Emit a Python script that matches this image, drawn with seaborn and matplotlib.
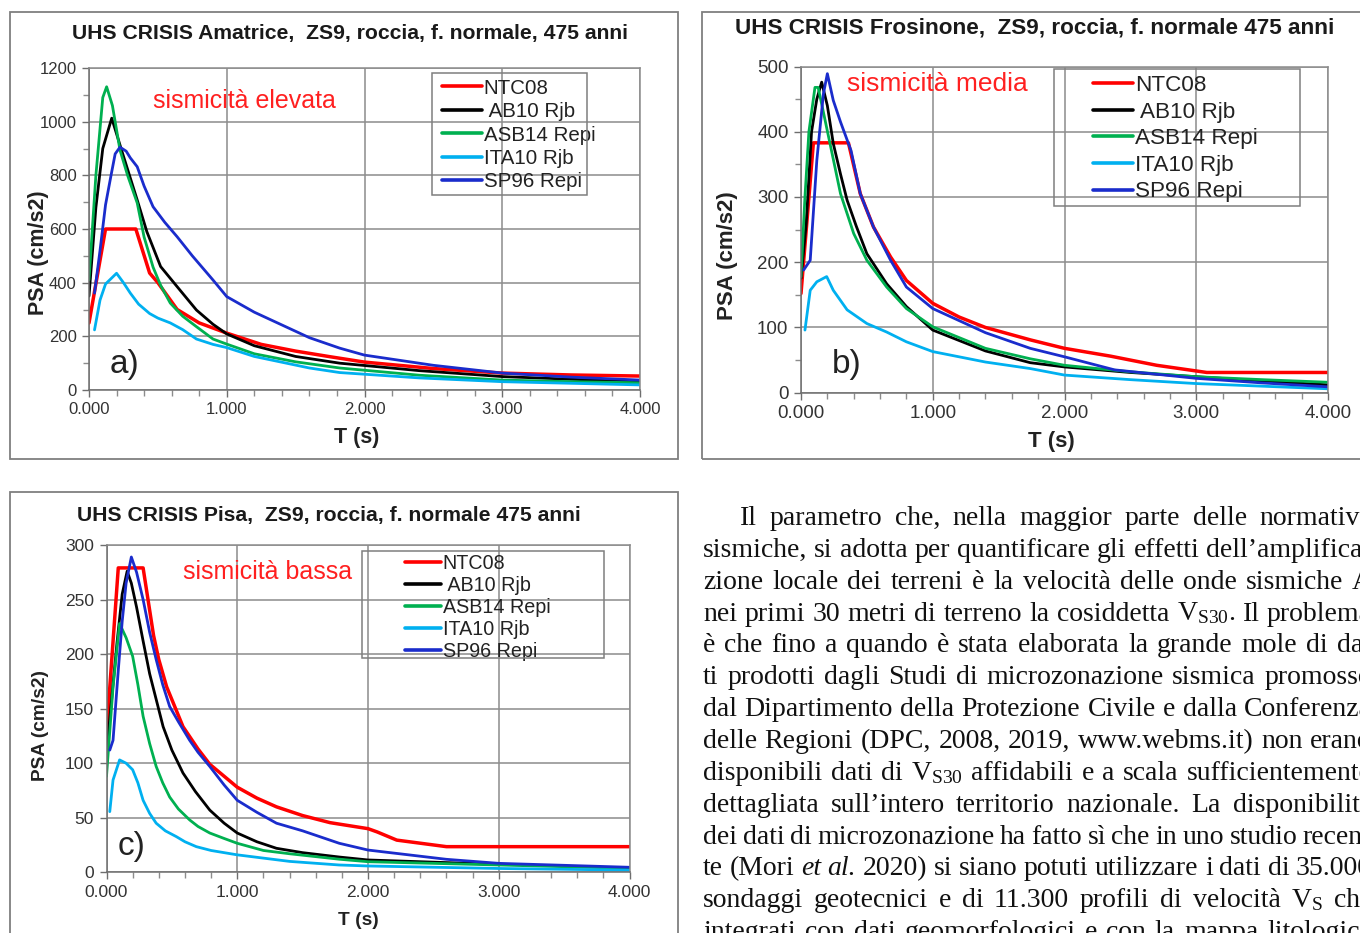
import numpy as np
import pandas as pd
import matplotlib
matplotlib.use("Agg")
import matplotlib.pyplot as plt
from matplotlib.patches import Rectangle
from matplotlib.ticker import MultipleLocator, FormatStrFormatter
import seaborn as sns

W, H = 1360, 933

# ---- data: T (s) and PSA (cm/s2) ----
SERIES = ["NTC08", " AB10 Rjb", "ASB14 Repi", "ITA10 Rjb", "SP96 Repi"]
COLORS = ["#ff0000", "#000000", "#00b050", "#00b0f0", "#1a2ccc"]

# a) Amatrice
a_ntc_t = [0.0, 0.12, 0.34, 0.44, 0.5, 0.64, 0.8, 1.0, 1.25, 1.5, 1.75, 2.0, 2.5, 3.0, 3.5, 4.0]
a_ntc_y = [250, 600, 600, 436, 400, 300, 250, 212, 170, 145, 124, 104, 80, 63, 56, 52]
a_ab_t = [0.0, 0.05, 0.1, 0.165, 0.24, 0.35, 0.42, 0.52, 0.64, 0.78, 0.9, 1.0, 1.2, 1.5, 1.82, 2.4, 3.0, 3.5, 4.0]
a_ab_y = [350, 680, 900, 1013, 888, 708, 590, 460, 385, 298, 245, 209, 165, 125, 100, 72, 50, 40, 31]
a_asb_t = [0.0, 0.05, 0.1, 0.128, 0.17, 0.225, 0.28, 0.35, 0.4, 0.465, 0.52, 0.59, 0.68, 0.78, 0.9, 1.0, 1.2, 1.5, 1.82, 2.4, 3.0, 3.5, 4.0]
a_asb_y = [410, 800, 1090, 1130, 1060, 894, 800, 697, 570, 458, 390, 324, 275, 236, 190, 171, 135, 105, 82, 55, 37, 31, 27]
a_ita_t = [0.04, 0.08, 0.12, 0.2, 0.25, 0.3, 0.36, 0.44, 0.5, 0.59, 0.68, 0.78, 0.9, 1.0, 1.2, 1.6, 1.82, 2.4, 3.0, 3.5, 4.0]
a_ita_y = [224, 335, 395, 435, 400, 361, 320, 285, 268, 250, 225, 190, 170, 158, 125, 82, 65, 45, 31, 25, 19]
a_sp_t = [0.04, 0.08, 0.12, 0.16, 0.19, 0.225, 0.27, 0.3, 0.35, 0.4, 0.465, 0.55, 0.64, 0.75, 0.9, 1.0, 1.2, 1.6, 1.82, 2.0, 2.5, 3.0, 3.5, 4.0]
a_sp_y = [361, 520, 690, 800, 880, 905, 890, 865, 832, 760, 683, 625, 571, 500, 410, 348, 290, 195, 156, 130, 92, 63, 48, 37]

# b) Frosinone
b_ntc_t = [0.0, 0.094, 0.36, 0.45, 0.55, 0.68, 0.8, 1.0, 1.2, 1.4, 1.74, 2.0, 2.35, 2.7, 3.08, 4.0]
b_ntc_y = [152, 383, 383, 305, 254, 208, 172, 137, 116, 100, 81, 68, 56, 42, 31, 31]
b_ab_t = [0.0, 0.04, 0.08, 0.12, 0.157, 0.2, 0.245, 0.3, 0.35, 0.42, 0.5, 0.65, 0.8, 1.0, 1.4, 1.74, 2.0, 2.5, 3.0, 3.5, 4.0]
b_ab_y = [175, 260, 400, 450, 476, 440, 382, 335, 295, 255, 213, 167, 132, 96, 64, 46, 39.5, 31, 24.5, 18, 12]
b_asb_t = [0.0, 0.03, 0.06, 0.106, 0.13, 0.17, 0.22, 0.3, 0.4, 0.5, 0.65, 0.8, 1.0, 1.4, 1.74, 2.0, 2.5, 3.0, 3.5, 4.0]
b_asb_y = [178, 300, 400, 468, 468, 430, 382, 305, 244, 203, 162, 129, 101, 68, 52, 42, 32, 24.5, 20, 16]
b_ita_t = [0.03, 0.07, 0.12, 0.195, 0.245, 0.35, 0.5, 0.65, 0.8, 1.0, 1.4, 1.74, 2.0, 2.5, 3.0, 3.5, 4.0]
b_ita_y = [96, 157, 170, 178, 157, 127, 106, 93, 78, 63, 47, 37, 27, 20, 14, 10, 6]
b_sp_t = [0.02, 0.07, 0.12, 0.17, 0.2, 0.245, 0.3, 0.38, 0.45, 0.55, 0.68, 0.8, 1.0, 1.4, 1.74, 2.0, 2.38, 3.0, 3.5, 4.0]
b_sp_y = [188, 203, 356, 458, 489, 448, 415, 371, 305, 254, 203, 162, 129, 92, 68, 55, 35, 22, 15, 9]

# c) Pisa
c_ntc_t = [0.0, 0.09, 0.28, 0.36, 0.4, 0.46, 0.585, 0.7, 0.79, 0.9, 1.0, 1.15, 1.3, 1.5, 1.71, 2.0, 2.07, 2.22, 2.6, 4.0]
c_ntc_y = [127, 279, 279, 217, 195, 170, 133.5, 113, 99, 88, 78, 68, 60, 52, 45.5, 40, 37, 29.5, 23.5, 23.5]
c_ab_t = [0.0, 0.08, 0.12, 0.158, 0.19, 0.23, 0.28, 0.33, 0.433, 0.5, 0.585, 0.68, 0.79, 0.9, 1.0, 1.15, 1.3, 1.5, 1.78, 2.0, 3.0]
c_ab_y = [109, 210, 255, 276, 265, 243, 212, 182, 133.5, 112, 91, 74, 57, 45, 36, 28, 22, 18, 14, 11.3, 7.3]
c_asb_t = [0.0, 0.05, 0.1, 0.15, 0.2, 0.24, 0.28, 0.33, 0.38, 0.43, 0.483, 0.55, 0.636, 0.7, 0.79, 0.9, 1.0, 1.2, 1.4, 1.78, 2.0, 3.0, 4.0]
c_asb_y = [88, 170, 228, 215, 198, 172, 143, 118, 97, 82, 69, 58, 48, 42, 36, 31, 26.6, 20, 17, 12, 9.7, 6.7, 3.6]
c_ita_t = [0.025, 0.05, 0.1, 0.15, 0.2, 0.24, 0.28, 0.33, 0.38, 0.45, 0.534, 0.6, 0.687, 0.8, 1.0, 1.2, 1.4, 1.78, 2.0, 3.0, 4.0]
c_ita_y = [55.6, 84.6, 103, 100, 94, 82, 66, 54, 45, 38, 32.7, 28, 23.5, 20, 16, 13, 10, 6.7, 5.8, 3.5, 2]
c_sp_t = [0.025, 0.05, 0.09, 0.12, 0.15, 0.19, 0.23, 0.28, 0.33, 0.38, 0.43, 0.483, 0.55, 0.636, 0.7, 0.79, 0.9, 1.0, 1.15, 1.3, 1.5, 1.78, 2.0, 2.6, 3.0, 4.0]
c_sp_y = [112, 121, 185, 230, 265, 289, 275, 250, 220, 195, 172, 152, 138, 121, 110, 97, 80, 66, 55, 45, 38, 26.6, 20.4, 11.9, 8.2, 4.6]

TITLES = ["UHS CRISIS Amatrice,  ZS9, roccia, f. normale, 475 anni",
          "UHS CRISIS Frosinone,  ZS9, roccia, f. normale 475 anni",
          "UHS CRISIS Pisa,  ZS9, roccia, f. normale 475 anni"]
NOTES = ["sismicità elevata", "sismicità media", "sismicità bassa"]
LETTERS = ["a)", "b)", "c)"]
YMAX = [1200, 500, 300]
YSTEP = [200, 100, 50]

BODY = [
    "Il parametro che, nella maggior parte delle normative",
    "sismiche, si adotta per quantificare gli effetti dell’amplifica-",
    "zione locale dei terreni è la velocità delle onde sismiche A",
    "nei primi 30 metri di terreno la cosiddetta V$_{\\mathrm{S30}}$. Il problema",
    "è che fino a quando è stata elaborata la grande mole di da-",
    "ti prodotti dagli Studi di microzonazione sismica promosso",
    "dal Dipartimento della Protezione Civile e dalla Conferenza",
    "delle Regioni (DPC, 2008, 2019, www.webms.it) non erano",
    "disponibili dati di V$_{\\mathrm{S30}}$ affidabili e a scala sufficientemente",
    "dettagliata sull’intero territorio nazionale. La disponibilità",
    "dei dati di microzonazione ha fatto sì che in uno studio recen-",
    "te (Mori _et _al. 2020) si siano potuti utilizzare i dati di 35.000",
    "sondaggi geotecnici e di 11.300 profili di velocità V$_{\\mathrm{S}}$ che",
    "integrati con dati geomorfologici e con la mappa litologica",
]

panels = [
    [(a_ntc_t, a_ntc_y), (a_ab_t, a_ab_y), (a_asb_t, a_asb_y), (a_ita_t, a_ita_y), (a_sp_t, a_sp_y)],
    [(b_ntc_t, b_ntc_y), (b_ab_t, b_ab_y), (b_asb_t, b_asb_y), (b_ita_t, b_ita_y), (b_sp_t, b_sp_y)],
    [(c_ntc_t, c_ntc_y), (c_ab_t, c_ab_y), (c_asb_t, c_asb_y), (c_ita_t, c_ita_y), (c_sp_t, c_sp_y)],
]

sns.set_theme(style="white")
plt.rcParams["font.family"] = ["Liberation Sans", "DejaVu Sans"]
plt.rcParams["mathtext.fontset"] = "custom"
plt.rcParams["mathtext.rm"] = "Liberation Serif"
plt.rcParams["mathtext.it"] = "Liberation Serif:italic"

fig = plt.figure(figsize=(W / 100, H / 100), dpi=100)

def px(x0, y_top, x1, y_bot):
    return [x0 / W, 1 - y_bot / H, (x1 - x0) / W, (y_bot - y_top) / H]

def frame(x0, y0, x1, y1, lw=1.3):
    fig.add_artist(Rectangle((x0 / W, 1 - y1 / H), (x1 - x0) / W, (y1 - y0) / H,
                             transform=fig.transFigure, fill=False, ec="#7f7f7f", lw=lw, zorder=5))

# panel frames
for box in [(10, 12, 678, 459), (702, 12, 1368, 459), (10, 492, 678, 945)]:
    frame(*box)

axes_px = [(89, 68, 640, 390), (801, 66.5, 1328, 392.7), (106.5, 545, 629.5, 872.3)]
title_pos = [(350, 33), (1035, 28), (329, 516)]
title_fs = [15.2, 16.2, 15.2]
tick_fs = [12, 13.5, 12.5]
lab_fs = [15.5, 16, 13.8]
note_pos = [(0.116, 0.898), (0.087, 0.945), (0.146, 0.918)]
note_fs = [18, 19, 18]
letter_pos = [(0.038, 0.078), (0.059, 0.085), (0.022, 0.08)]
ylab_pos = [(-0.092, 0.425), (-0.140, 0.421), (-0.127, 0.447)]
xlab_pos = [(0.486, -0.149), (0.476, -0.151), (0.481, -0.146)]
# legend boxes and rows, picture pixels
leg_box = [(432, 73, 587, 195), (1054, 69, 1300, 206), (362, 551, 604, 658)]
leg_hx = [442, 1093, 405]
leg_row0 = [86, 83, 561]
leg_row = [24, 27, 21.7]
leg_hpx = [40, 40, 36]
leg_fs = [14.8, 16.2, 14.2]
yminor = [100, 50, None]

for k in range(3):
    ax = fig.add_axes(px(*axes_px[k]))
    for (t, v), name, col in zip(panels[k], SERIES, COLORS):
        df = pd.DataFrame({"T": t, "PSA": v})
        sns.lineplot(data=df, x="T", y="PSA", ax=ax, color=col, lw=2.5 if col == "#ff0000" else 2.0,
                     label=name, estimator=None, sort=False)
    ax.set_xlim(0, 4)
    ax.set_ylim(0, YMAX[k])
    ax.xaxis.set_major_locator(MultipleLocator(1))
    ax.xaxis.set_minor_locator(MultipleLocator(0.2))
    ax.xaxis.set_major_formatter(FormatStrFormatter("%.3f"))
    ax.yaxis.set_major_locator(MultipleLocator(YSTEP[k]))
    if yminor[k]:
        ax.yaxis.set_minor_locator(MultipleLocator(yminor[k]))
    ax.grid(True, which="major", color="#8c8c8c", lw=1.1)
    ax.set_axisbelow(True)
    for s in ax.spines.values():
        s.set_color("#8c8c8c")
        s.set_linewidth(1.1)
    ax.spines["left"].set_color("#6e6e6e")
    ax.spines["bottom"].set_color("#6e6e6e")
    ax.tick_params(which="major", direction="out", length=5, width=1, color="#6e6e6e",
                   labelsize=tick_fs[k], labelcolor="#333333", pad=4, left=True, bottom=True)
    ax.tick_params(which="minor", direction="out", length=4, width=1, color="#8c8c8c", left=True, bottom=True)
    ax.set_xlabel("T (s)", fontsize=lab_fs[k], fontweight="bold", color="#222222", va="center")
    ax.set_ylabel("PSA (cm/s2)", fontsize=lab_fs[k], fontweight="bold", color="#222222", va="center")
    ax.xaxis.set_label_coords(*xlab_pos[k])
    ax.yaxis.set_label_coords(*ylab_pos[k])
    ax.text(*note_pos[k], NOTES[k], transform=ax.transAxes, color="#ff2020", fontsize=note_fs[k],
            ha="left", va="center")
    ax.text(*letter_pos[k], LETTERS[k], transform=ax.transAxes, color="#222222", fontsize=24,
            ha="left", va="center")

    # legend without its own frame, boxed by hand
    fs_px = leg_fs[k] * 100 / 72
    leg = ax.legend(loc="upper left",
                    bbox_to_anchor=(leg_hx[k] / W, 1 - (leg_row0[k] - 0.36 * fs_px) / H),
                    bbox_transform=fig.transFigure, fontsize=leg_fs[k], frameon=False,
                    labelspacing=leg_row[k] / fs_px - 0.95, handlelength=leg_hpx[k] / fs_px,
                    handletextpad=0.08, borderpad=0, borderaxespad=0)
    for txt in leg.get_texts():
        txt.set_color("#222222")
    for ln in leg.get_lines():
        ln.set_linewidth(2.6)
    frame(*leg_box[k], lw=1.1)

    fig.text(title_pos[k][0] / W, 1 - title_pos[k][1] / H, TITLES[k], ha="center", va="center",
             fontsize=title_fs[k], fontweight="bold", color="#1a1a1a")

# justified body text on the right (the page runs on past the picture's edge)
renderer = fig.canvas.get_renderer()
right_edge = 1372
for i, line in enumerate(BODY):
    y = 1 - (525 + i * 31.85) / H
    x0 = 740 if i == 0 else 703
    arts = []
    for w in line.split(" "):
        style = "normal"
        if w.startswith("_"):
            w = w[1:]
            style = "italic"
        arts.append(fig.text(0, y, w, fontsize=20, family=["Liberation Serif", "DejaVu Serif"],
                             style=style, color="#111111", ha="left", va="baseline"))
    widths = [a.get_window_extent(renderer).width for a in arts]
    gap = (right_edge - x0 - sum(widths)) / max(len(arts) - 1, 1)
    x = x0
    for a, wd in zip(arts, widths):
        a.set_x(x / W)
        x += wd + gap

fig.savefig("out.png", dpi=100)
